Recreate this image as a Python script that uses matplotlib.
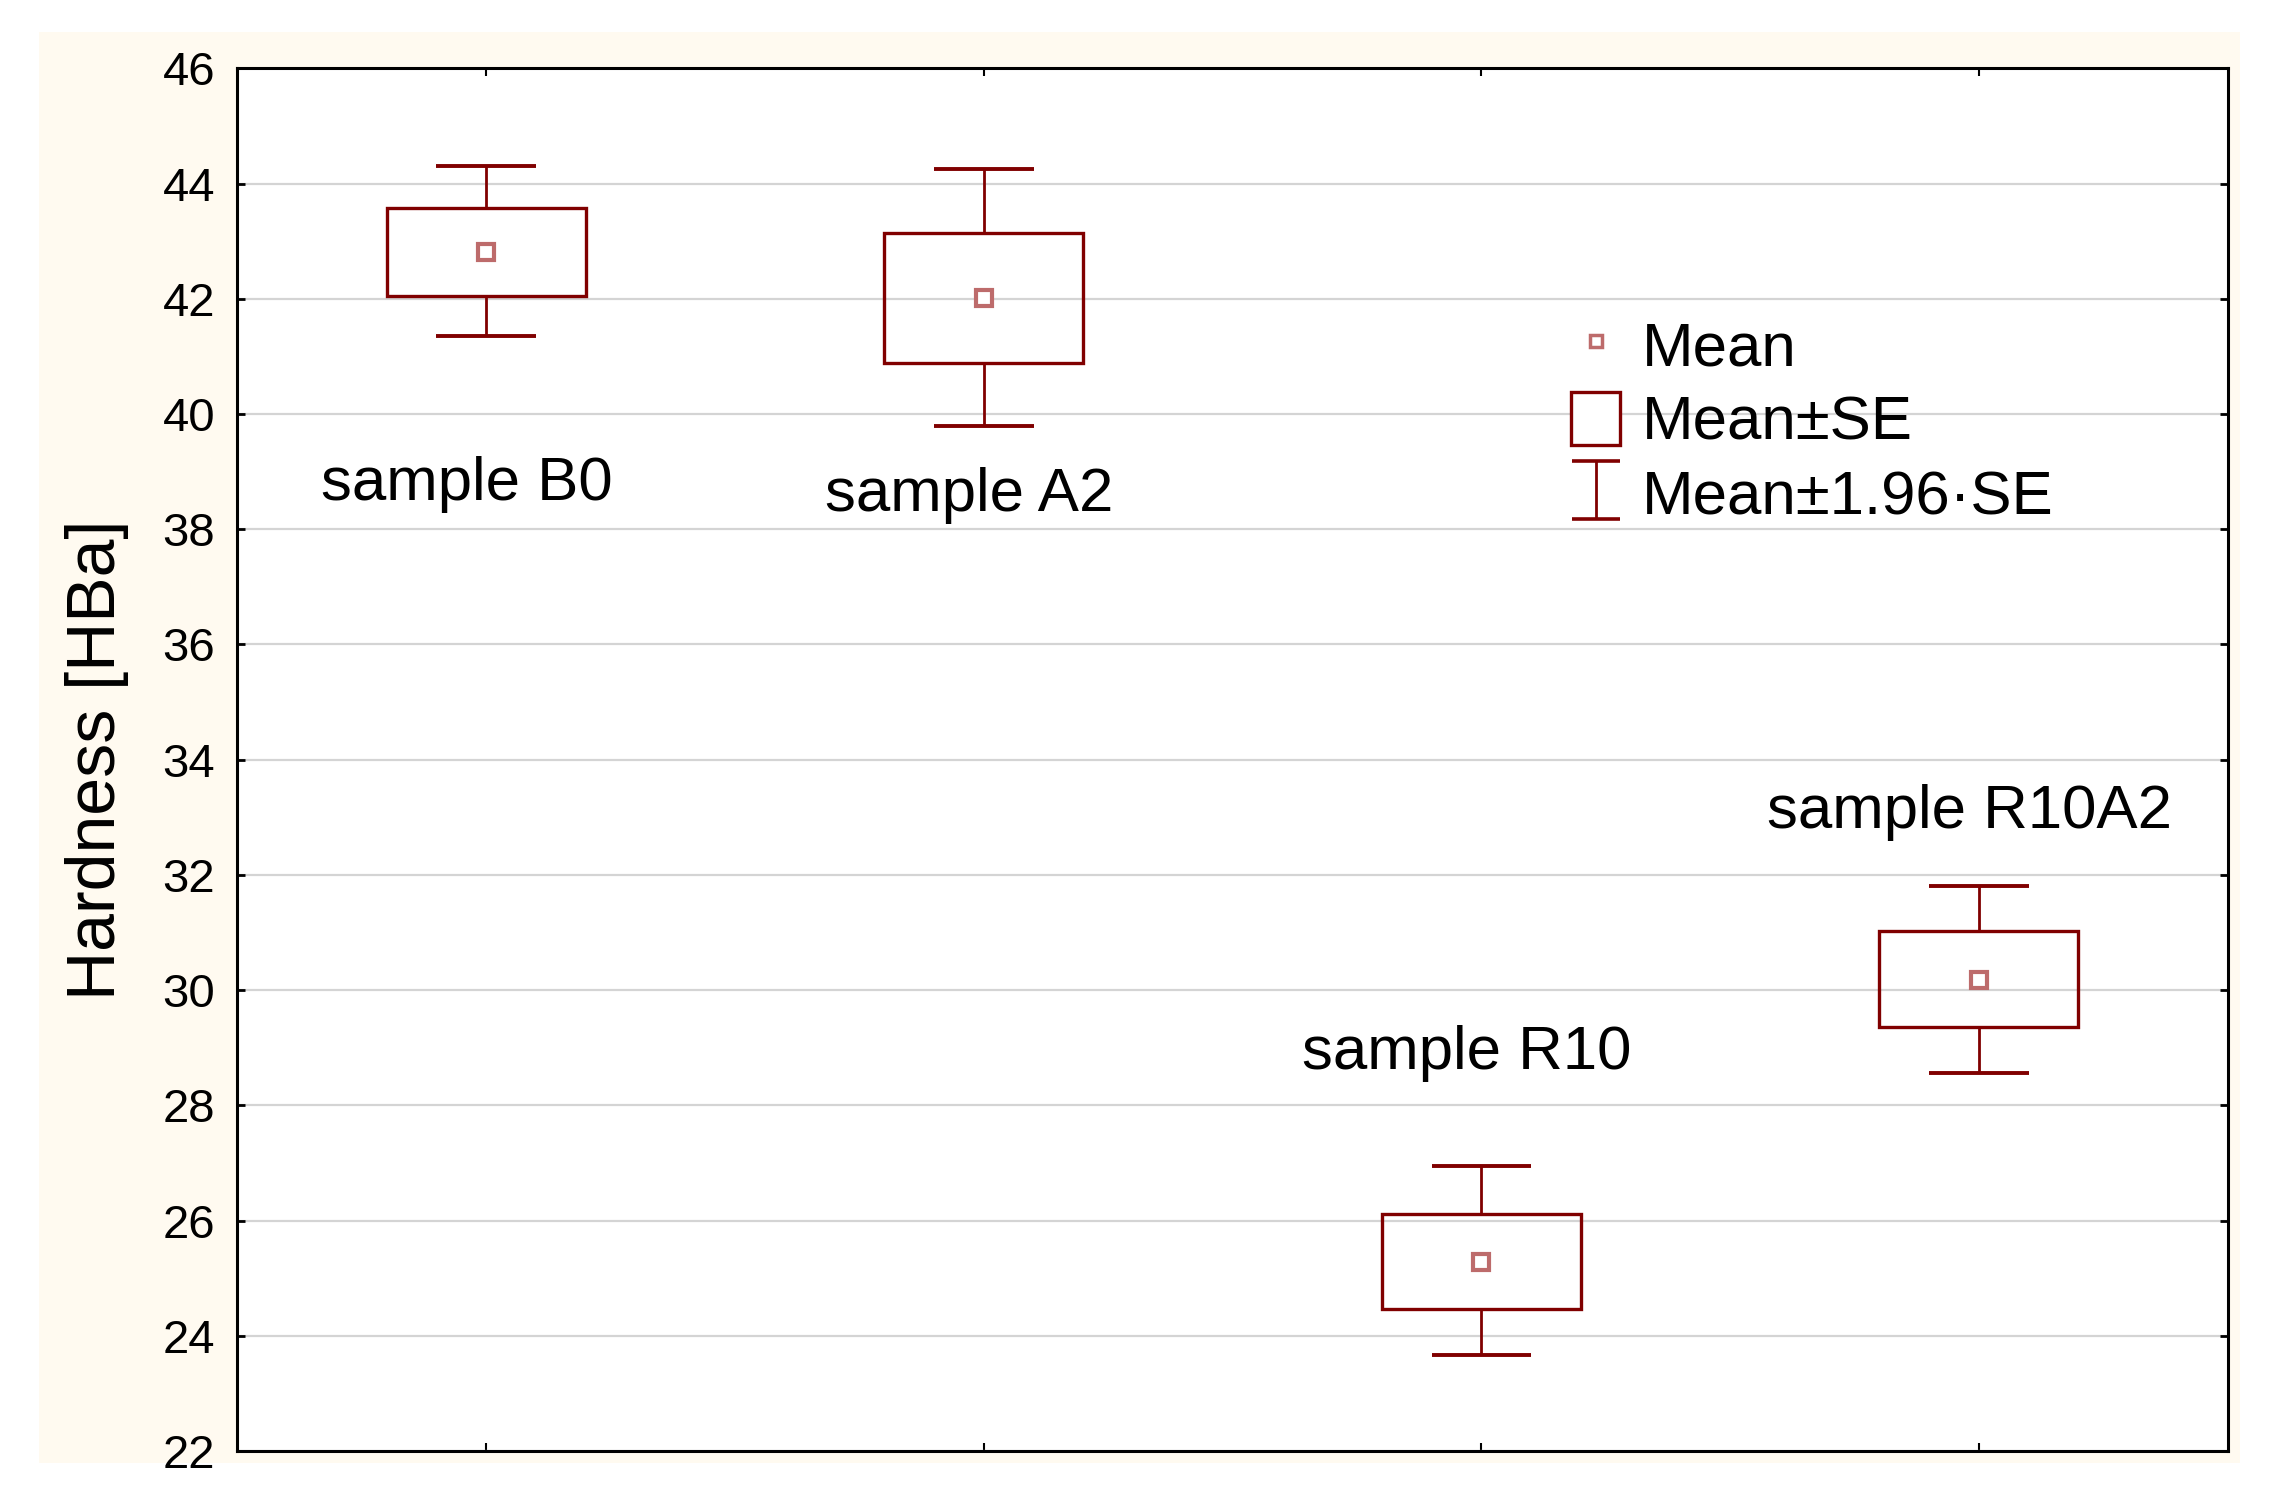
import numpy as np
import matplotlib
matplotlib.use("Agg")
import matplotlib.pyplot as plt
from matplotlib.patches import Rectangle
from matplotlib.lines import Line2D
from matplotlib.legend_handler import HandlerErrorbar

plt.rcParams['font.family'] = ['Liberation Sans', 'DejaVu Sans']

# data
samples = ["sample B0", "sample A2", "sample R10", "sample R10A2"]
means = [42.82, 42.01, 25.28, 30.18]
box_lo = [42.05, 40.88, 24.46, 29.36]     # mean - SE
box_hi = [43.57, 43.14, 26.12, 31.02]     # mean + SE
whisk_lo = [41.35, 39.79, 23.66, 28.57]   # mean - 1.96*SE
whisk_hi = [44.30, 44.25, 26.94, 31.80]   # mean + 1.96*SE
label_x = [0.96, 1.97, 2.97, 3.98]
label_y = [38.77, 38.59, 28.9, 33.09]

dark_red = "#800000"
mean_col = "#bd6b6b"

fig = plt.figure(figsize=(22.83, 15.02), dpi=100)
fig.patch.set_facecolor("white")
fig.patches.append(Rectangle((0.0172, 0.026), 0.9638, 0.953, transform=fig.transFigure,
                             facecolor="#fffaf0", edgecolor="none", zorder=-10))

ax = fig.add_axes([0.104, 0.0339, 0.8718, 0.9206])
ax.set_facecolor("white")

x = np.arange(1, len(samples) + 1)
box_w = 0.4
cap_w = 0.2

for xi, m, bl, bh, wl, wh in zip(x, means, box_lo, box_hi, whisk_lo, whisk_hi):
    ax.add_patch(Rectangle((xi - box_w / 2, bl), box_w, bh - bl, facecolor="none",
                           edgecolor=dark_red, lw=2.4, zorder=3))
ax.vlines(x, box_hi, whisk_hi, color=dark_red, lw=2.0, zorder=3)
ax.vlines(x, whisk_lo, box_lo, color=dark_red, lw=2.0, zorder=3)
ax.hlines(whisk_hi, x - cap_w / 2, x + cap_w / 2, color=dark_red, lw=2.8, zorder=3)
ax.hlines(whisk_lo, x - cap_w / 2, x + cap_w / 2, color=dark_red, lw=2.8, zorder=3)
ax.plot(x, means, ls="none", marker="s", ms=12, mfc="white", mec=mean_col, mew=3, zorder=4)

for lx, ly, s in zip(label_x, label_y, samples):
    ax.text(lx, ly, s, ha="center", va="center", fontsize=44.5, color="black")

ax.set_xlim(0.5, 4.5)
ax.set_ylim(22, 46)
ax.set_yticks(np.arange(22, 47, 2))
ax.set_xticks(x)
ax.set_xticklabels([])
ax.yaxis.grid(True, color="#d4d4d4", lw=1.6)
ax.set_axisbelow(True)
ax.tick_params(axis="y", direction="in", length=6, width=2, labelsize=34, pad=16,
               right=True)
ax.tick_params(axis="x", direction="in", length=6, width=1.5, top=True)
for sp in ax.spines.values():
    sp.set_linewidth(2.2)
    sp.set_color("black")
ax.set_ylabel("Hardness [HBa]", fontsize=49, labelpad=24)

# legend with proxy handles
h_mean = Line2D([], [], ls="none", marker="s", ms=8.5, mfc="white", mec=mean_col, mew=2.5)
h_box = Rectangle((0, 0), 1, 1, facecolor="white", edgecolor=dark_red, lw=2.4)
h_err = ax.errorbar([np.nan], [np.nan], yerr=[1], fmt="none", ecolor=dark_red,
                    elinewidth=2.0, capsize=17, capthick=2.6)
ax.legend([h_mean, h_box, h_err], ["Mean", "Mean\u00b1SE", "Mean\u00b11.96\u00b7SE"],
          loc="upper left", bbox_to_anchor=(0.67, 0.82), frameon=False, fontsize=44.5,
          handlelength=0.8, handleheight=0.95, handletextpad=0.35, labelspacing=0.22,
          borderpad=0, borderaxespad=0,
          handler_map={type(h_err): HandlerErrorbar(yerr_size=0.47)})

fig.savefig("out.png", dpi=100)
